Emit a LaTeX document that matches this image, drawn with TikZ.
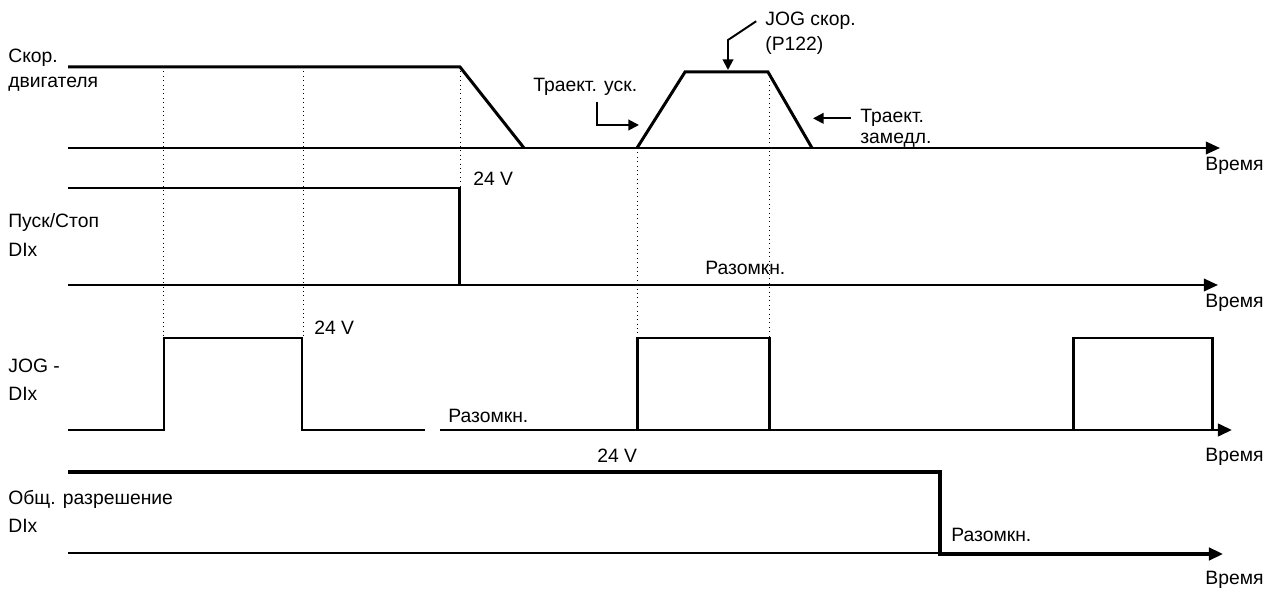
\documentclass[tikz,border=0pt]{standalone}
\usepackage{fontspec}
\setmainfont{Liberation Sans}
\usetikzlibrary{arrows.meta}

\tikzset{
    sig/.style={line width=1.7pt, line join=miter},
    axis/.style={line width=1.4pt, -{Triangle[length=8pt, width=7pt]}},
    annot/.style={line width=1.1pt, -{Triangle[length=6pt, width=6pt]}},
    guide/.style={line width=0.5pt, dotted},
    lbl/.style={anchor=base west, inner sep=0pt},
}

\begin{document}
\begin{tikzpicture}[x=0.02cm, y=-0.02cm, font=\fontsize{11}{13}\selectfont]
    \useasboundingbox (0,0) rectangle (1274,590);

    % Guide lines
    \foreach \x/\ya/\yb in {163/67/338, 303/67/338, 460/67/188, 637/148/338, 769/72/338} {
        \draw[guide] (\x,\ya) -- (\x,\yb);
    }

    % Motor speed
    \node[lbl] (spdA) at (8,63) {Скор.};
    \node[lbl] (spdB) at (8,88) {двигателя};
    \draw[sig] (68,67) -- (460,67) -- (524,148);
    \draw[axis] (68,148) -- (1220,148);
    \draw[sig] (637,148) -- (685,72) -- (768,72) -- (812,148);
    \node[lbl] (time1) at (1205,171) {Время};

    % Ramp annotations
    \node[lbl] (jogsp) at (765,26) {JOG скор.};
    \node[lbl] (jogpar) at (765,51) {(P122)};
    \coordinate (jogbend) at (728,40);
    \coordinate (jogtip) at (728,70);
    \draw[annot] ([xshift=-5pt]jogsp.west) -- (jogbend) -- (jogtip);

    \node[lbl] (acctxt) at (533,92) {Траект. уск.};
    \coordinate (accbend) at (597,125);
    \coordinate (acctip) at (639,125);
    \draw[annot] ([yshift=-3pt]accbend |- acctxt.south) -- (accbend) -- (acctip);

    \node[lbl] (dectxt) at (860,123) {Траект.};
    \node[lbl] (dectxtB) at (860,144) {замедл.};
    \coordinate (dectip) at (813,117);
    \draw[annot] ([xshift=-5pt]dectxt.west) -- (dectxt.west -| dectip);

    % Start/Stop
    \node[lbl] (runA) at (8,228) {Пуск/Стоп};
    \node[lbl] (runB) at (8,257) {DIx};
    \draw[sig] (68,188) -- (459,188) -- (459,285);
    \draw[axis] (68,285) -- (1218,285);
    \node[lbl] (run24) at (473,186) {24 V};
    \node[lbl] (runopen) at (705,275) {Разомкн.};
    \node[lbl] (time2) at (1205,308) {Время};

    % JOG input
    \node[lbl] (jogA) at (8,373) {JOG -};
    \node[lbl] (jogB) at (8,401) {DIx};
    \draw[sig] (68,430) -- (164,430) -- (164,338) -- (302,338) -- (302,430) -- (425,430);
    \draw[axis, line width=1.7pt] (440,430) -- (1232,430);
    \foreach \xa/\xb in {637/769, 1073/1212} {
        \draw[sig] (\xa,430) -- (\xa,338) -- (\xb,338) -- (\xb,430);
    }
    \node[lbl] (jog24) at (314,335) {24 V};
    \node[lbl] (jogopen) at (448,423) {Разомкн.};
    \node[lbl] (time3) at (1205,462) {Время};

    % Enable
    \node[lbl] (enA) at (8,505) {Общ. разрешение};
    \node[lbl] (enB) at (8,533) {DIx};
    \draw[line width=0.9pt] (68,553) -- (940,553);
    \draw[axis, line width=2pt] (68,472) -- (940,472) -- (940,554) -- (1223,554);
    \node[lbl] (en24) at (597,463) {24 V};
    \node[lbl] (enopen) at (951,542) {Разомкн.};
    \node[lbl] (time4) at (1205,584) {Время};
\end{tikzpicture}
\end{document}
